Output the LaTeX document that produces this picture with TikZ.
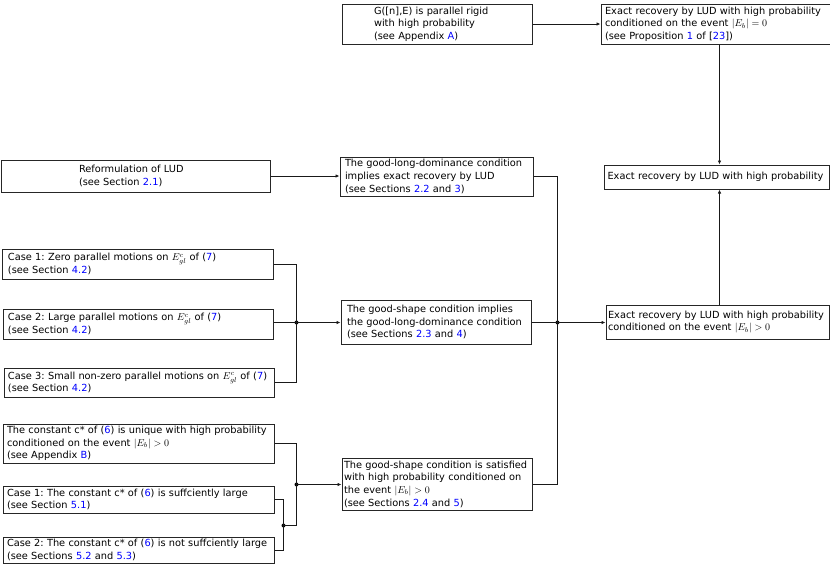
\documentclass[tikz,border=0pt]{standalone}
\usepackage{fontspec}
\setmainfont{DejaVu Sans}
\usepackage{xcolor}
\usetikzlibrary{arrows.meta}
\usetikzlibrary{calc}

\newcommand{\lnk}[1]{\textcolor{blue}{#1}}
\tikzset{
    box/.style={draw=black!85, line width=1pt, align=left, anchor=north west, inner ysep=0pt, font=\frenchspacing\fontsize{9.8}{12.7}\selectfont},
    wire/.style={line width=1pt, black!90},
    link/.style={wire, -{Latex[length=4pt,width=3.5pt]}},
    joint/.style={circle, fill=black, inner sep=0pt, minimum size=4pt},
}

\begin{document}
\begin{tikzpicture}[x=1pt,y=-1pt]
    \useasboundingbox (0,0) rectangle (830,563);

    % top row
    \node[box, inner xsep=32pt, text width=126pt, minimum height=40pt] (rigid) at (341.5,3.5) {G([n],E) is parallel rigid\\with high probability\\(see Appendix \lnk{A})};
    \node[box, inner xsep=4pt, text width=221pt, minimum height=40pt] (exactzero) at (600.5,3.5) {Exact recovery by LUD with high probability\\conditioned on the event $|E_b|=0$\\(see Proposition \lnk{1} of [\lnk{23}])};

    % middle
    \node[box, inner xsep=78pt, text width=113pt, minimum height=32pt] (reform) at (0.5,159.5) {Reformulation of LUD\\(see Section \lnk{2.1})};
    \node[box, inner xsep=5pt, text width=183pt, minimum height=39pt] (gld) at (339.5,156.5) {The good-long-dominance condition\\implies exact recovery by LUD\\(see Sections \lnk{2.2} and \lnk{3})};
    \node[box, inner xsep=3.5pt, text width=218pt, minimum height=24pt] (exact) at (603.5,164.5) {Exact recovery by LUD with high probability};

    \node[box, inner xsep=6pt, text width=259pt, minimum height=30pt] (case1) at (1.5,248.5) {Case 1: Zero parallel motions on $E^c_{gl}$ of (\lnk{7})\\(see Section \lnk{4.2})};
    \node[box, inner xsep=5pt, text width=260pt, minimum height=30pt] (case2) at (2.5,308.5) {Case 2: Large parallel motions on $E^c_{gl}$ of (\lnk{7})\\(see Section \lnk{4.2})};
    \node[box, inner xsep=4pt, text width=262pt, minimum height=29pt] (case3) at (3.5,367.5) {Case 3: Small non-zero parallel motions on $E^c_{gl}$ of (\lnk{7})\\(see Section \lnk{4.2})};

    \node[box, inner xsep=6pt, text width=178pt, minimum height=44pt] (gsimp) at (340.5,299.5) {The good-shape condition implies\\the good-long-dominance condition\\(see Sections \lnk{2.3} and \lnk{4})};
    \node[box, inner xsep=2pt, text width=219pt, minimum height=34pt] (exactpos) at (605.5,304.5) {Exact recovery by LUD with high probability\\conditioned on the event $|E_b|>0$};

    % bottom
    \node[box, inner xsep=4pt, text width=263pt, minimum height=39pt] (unique) at (2.5,423.5) {The constant c* of (\lnk{6}) is unique with high probability\\conditioned on the event $|E_b|>0$\\(see Appendix \lnk{B})};
    \node[box, inner xsep=2pt, text width=186pt, minimum height=52pt] (gssat) at (341.5,457.5) {The good-shape condition is satisfied\\with high probability conditioned on\\the event $|E_b|>0$\\(see Sections \lnk{2.4} and \lnk{5})};
    \node[box, inner xsep=4pt, text width=263pt, minimum height=27pt] (suff) at (2.5,485.5) {Case 1: The constant c* of (\lnk{6}) is suffciently large\\(see Section \lnk{5.1})};
    \node[box, inner xsep=4pt, text width=263pt, minimum height=26pt] (notsuff) at (2.5,536.5) {Case 2: The constant c* of (\lnk{6}) is not suffciently large\\(see Sections \lnk{5.2} and \lnk{5.3})};

    % junctions
    \coordinate (vx) at (719.5,0);
    \node[joint] (jl) at (296.5,322.5) {};
    \node[joint] (jr) at (557.5,322.5) {};
    \node[joint] (jb) at (296.5,484.5) {};
    \node[joint] (jc) at (283.5,525.5) {};

    % connectors
    \draw[link] (rigid.east) -- (exactzero.west |- rigid.east);
    \draw[link] (exactzero.south -| vx) -- (exact.north -| vx);
    \draw[link] (exactpos.north -| vx) -- (exact.south -| vx);
    \draw[link] (reform.east) -- (gld.west |- reform.east);

    \draw[wire] (gld.east) -| (jr.center) |- (gssat.east);
    \draw[wire] (gsimp.east |- jr.center) -- (jr.center);
    \draw[link] (jr.center) -- (exactpos.west |- jr.center);

    \draw[wire] (case1.east) -| (jl.center) |- (case3.east);
    \draw[wire] (case2.east |- jl.center) -- (jl.center);
    \draw[link] (jl.center) -- (gsimp.west |- jl.center);

    \draw[wire] (suff.east) -| (jc.center) |- (notsuff.east);
    \draw[wire] (unique.east) -| (jb.center) |- (jc.center);
    \draw[link] (jb.center) -- (gssat.west |- jb.center);
\end{tikzpicture}
\end{document}
